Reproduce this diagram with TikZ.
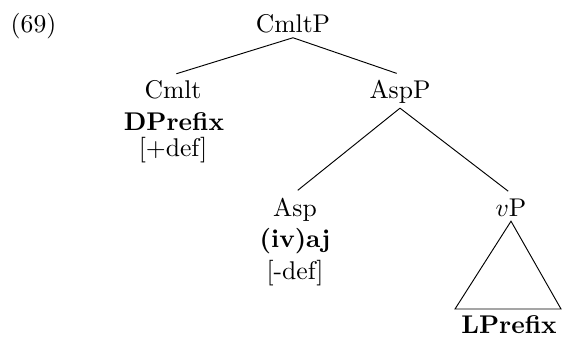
\documentclass[tikz,border=0pt]{standalone}
\begin{document}
\begin{tikzpicture}[x=1.496cm,y=1.496cm,
    lbl/.style={anchor=base,inner sep=2pt,font=\fontsize{10.9}{13}\selectfont},
    br/.style={shorten >=1.5pt}]
\useasboundingbox (0,0) rectangle (5.62,-3.36);
\node[lbl] (ex) at (0.335,-0.32) {(69)};
\node[lbl] (cmltp) at (2.93,-0.32) {CmltP};

\node[lbl] (cmlt) at (1.73,-0.98) {Cmlt};
\node[lbl] (dprefix) at (1.74,-1.30) {\textbf{DPrefix}};
\node[lbl] (pdef) at (1.73,-1.56) {[+def]};
\node[lbl] (aspp) at (4.00,-0.98) {AspP};

\node[lbl] (asp) at (2.95,-2.16) {Asp};
\node[lbl] (ivaj) at (2.95,-2.47) {\textbf{(iv)aj}};
\node[lbl] (mdef) at (2.95,-2.79) {[-def]};
\node[lbl] (vp) at (5.11,-2.16) {$v$P};

\coordinate (tl) at (4.55,-3.09);
\coordinate (tr) at (5.61,-3.09);
\node[lbl] (lprefix) at (5.09,-3.33) {\textbf{LPrefix}};

\draw[br] (cmltp.south) -- (cmlt.north);
\draw[br] (cmltp.south) -- (aspp.north);
\draw[br] (aspp.south) -- (asp.north);
\draw[br] (aspp.south) -- (vp.north);
\draw (vp.south) -- (tl) -- (tr) -- cycle;
\end{tikzpicture}
\end{document}
